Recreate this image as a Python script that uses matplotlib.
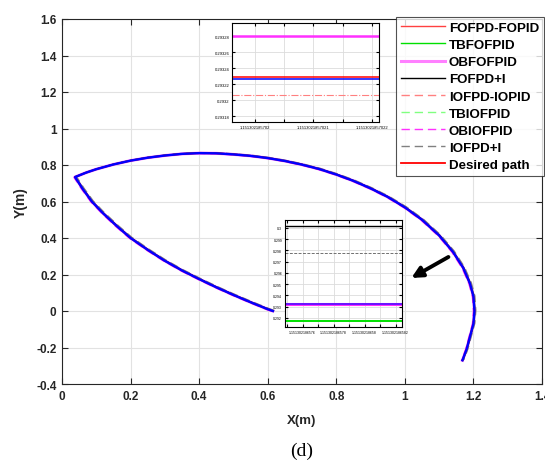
import matplotlib
matplotlib.use("Agg")
import matplotlib.pyplot as plt
import numpy as np

plt.rcParams['font.family'] = ['Liberation Sans', 'DejaVu Sans']

# ---- trajectory (metres): lower segment from start to corner, then upper arc ----
path_x = [0.615, 0.60, 0.55, 0.50, 0.45, 0.40, 0.35, 0.30, 0.25, 0.20, 0.16, 0.12, 0.087, 0.06, 0.038,
          0.07, 0.10, 0.15, 0.20, 0.25, 0.30, 0.35, 0.40, 0.45, 0.50, 0.55, 0.60, 0.65, 0.70, 0.75,
          0.80, 0.85, 0.90, 0.95, 1.00, 1.05, 1.10, 1.14, 1.17, 1.19, 1.20, 1.203, 1.20, 1.19, 1.18, 1.168]
path_y = [0.0, 0.010, 0.048, 0.088, 0.130, 0.175, 0.222, 0.275, 0.335, 0.400, 0.465, 0.535, 0.600, 0.670, 0.734,
          0.758, 0.777, 0.803, 0.824, 0.840, 0.852, 0.861, 0.865, 0.864, 0.858, 0.850, 0.838, 0.822, 0.802, 0.778,
          0.748, 0.713, 0.672, 0.625, 0.568, 0.500, 0.414, 0.325, 0.237, 0.150, 0.080, 0.0, -0.07, -0.14, -0.21, -0.27]

# controllers (legend order) and their small deviations from the reference path
series_names = ['FOFPD-FOPID', 'TBFOFPID', 'OBFOFPID', 'FOFPD+I', 'IOFPD-IOPID',
                'TBIOFPID', 'OBIOFPID', 'IOFPD+I', 'Desired path']
series_colors = ['#ff4040', '#00e000', '#ff80ff', '#000000', '#ff8080',
                 '#80ff80', '#ff30ff', '#808080', '#ff0000']
series_styles = ['-', '-', '-', '-', '--', '--', '--', '--', '-']
series_widths = [1.0, 1.0, 2.2, 1.0, 1.0, 1.0, 1.0, 1.0, 1.3]
series_dx = [0.0, 0.002, 0.0, 0.001, 0.0, 0.001, -0.003, 0.004, 0.0]
series_dy = [0.0, 0.001, 0.0, 0.001, 0.0, 0.0, -0.002, 0.003, 0.0]

# zoom window 1 (upper) levels
inset1_levels = [0.29328, 0.2932284, 0.2932259, 0.2932063]
inset1_colors = ['#ff30ff', '#ff0000', '#0000ff', '#ff8080']
inset1_styles = ['-', '-', '-', '-.']
inset1_widths = [1.8, 1.1, 1.1, 0.8]
inset1_yticks = [0.29318, 0.2932, 0.29322, 0.29324, 0.29326, 0.29328]
inset1_yticklabels = ['0.29318', '0.2932', '0.29322', '0.29324', '0.29326', '0.29328']
inset1_xticks = [0.156, 0.356, 0.553, 0.753, 0.95]
inset1_xticklabels = ['1.151302185702', '', '1.1513021857021', '', '1.1513021857022']

# zoom window 2 (lower) levels
inset2_levels = [0.3002, 0.2978, 0.2932, 0.2932, 0.29176]
inset2_colors = ['#000000', '#707070', '#ff30ff', '#0000ff', '#00e000']
inset2_styles = ['-', '--', '-', '-', '-']
inset2_widths = [1.0, 0.7, 2.2, 1.4, 1.4]
inset2_alphas = [1.0, 1.0, 1.0, 0.6, 1.0]
inset2_yticks = [0.292, 0.293, 0.294, 0.295, 0.296, 0.297, 0.298, 0.299, 0.3]
inset2_yticklabels = ['0.292', '0.293', '0.294', '0.295', '0.296', '0.297', '0.298', '0.299', '0.3']
inset2_xticks = [0.017, 0.150, 0.282, 0.415, 0.547, 0.680, 0.812, 0.945]
inset2_xticklabels = ['', '1.151302186576', '', '1.151302186578', '', '1.15130218658', '', '1.151302186582']

x_ticks = [0, 0.2, 0.4, 0.6, 0.8, 1.0, 1.2, 1.4]
x_ticklabels = ['0', '0.2', '0.4', '0.6', '0.8', '1', '1.2', '1.4']
y_ticks = [-0.4, -0.2, 0, 0.2, 0.4, 0.6, 0.8, 1.0, 1.2, 1.4, 1.6]
y_ticklabels = ['-0.4', '-0.2', '0', '0.2', '0.4', '0.6', '0.8', '1', '1.2', '1.4', '1.6']

W, H = 545, 464
fig = plt.figure(figsize=(W / 100, H / 100), dpi=100)
ax = fig.add_axes([62 / W, 1 - 385 / H, 480 / W, 365 / H])

px = np.array(path_x)
py = np.array(path_y)
handles = []
for name, c, ls, lw, dx, dy in zip(series_names, series_colors, series_styles,
                                   series_widths, series_dx, series_dy):
    if ls == '--':
        h, = ax.plot(px + dx, py + dy, color=c, lw=lw, dashes=(6, 3.5), label=name)
    else:
        h, = ax.plot(px + dx, py + dy, color=c, lw=lw, ls=ls, label=name)
    handles.append(h)
# measured trajectory on top
ax.plot(px, py, color='#0000ff', lw=1.7)

ax.set_xlim(0, 1.4)
ax.set_ylim(-0.4, 1.6)
ax.set_xticks(x_ticks)
ax.set_xticklabels(x_ticklabels)
ax.set_yticks(y_ticks)
ax.set_yticklabels(y_ticklabels)
ax.tick_params(direction='in', length=4, width=0.8, top=True, right=True,
               labelsize=8.5, colors='#262626', pad=4)
for lab in ax.get_xticklabels() + ax.get_yticklabels():
    lab.set_fontweight('bold')
ax.grid(True, color='#e2e2e2', lw=0.8)
ax.set_axisbelow(True)
for sp in ax.spines.values():
    sp.set_color('#262626')
    sp.set_linewidth(0.8)
ax.set_xlabel('X(m)', fontsize=9.5, fontweight='bold', color='#262626', labelpad=9)
ax.set_ylabel('Y(m)', fontsize=10, fontweight='bold', color='#262626', labelpad=6)

# arrow pointing at the lower zoom window
ax.annotate('', xy=(1.019, 0.181), xytext=(1.127, 0.296),
            arrowprops=dict(arrowstyle='-|>', color='black', lw=2.8, mutation_scale=16,
                            shrinkA=0, shrinkB=0))

# upper zoom window
a1 = fig.add_axes([232 / W, 1 - 123 / H, 147 / W, 99 / H])
for lvl, c, ls, lw in zip(inset1_levels, inset1_colors, inset1_styles, inset1_widths):
    a1.plot([0, 1], [lvl, lvl], color=c, ls=ls, lw=lw)
a1.set_xlim(0, 1)
a1.set_ylim(0.2931725, 0.2932963)
a1.set_yticks(inset1_yticks)
a1.set_yticklabels(inset1_yticklabels)
a1.set_xticks(inset1_xticks)
a1.set_xticklabels(inset1_xticklabels)
a1.tick_params(direction='in', length=2, width=0.8, top=True, right=True, labelsize=3, pad=2)
a1.grid(True, color='#dcdcdc', lw=0.6)
for sp in a1.spines.values():
    sp.set_linewidth(0.8)

# lower zoom window
a2 = fig.add_axes([285 / W, 1 - 328 / H, 117 / W, 107 / H])
for lvl, c, ls, lw, al in zip(inset2_levels, inset2_colors, inset2_styles, inset2_widths, inset2_alphas):
    if ls == '--':
        a2.plot([0, 1], [lvl, lvl], color=c, lw=lw, dashes=(3, 1.5), alpha=al)
    else:
        a2.plot([0, 1], [lvl, lvl], color=c, lw=lw, ls=ls, alpha=al)
a2.set_xlim(0, 1)
a2.set_ylim(0.2912, 0.30071)
a2.set_yticks(inset2_yticks)
a2.set_yticklabels(inset2_yticklabels)
a2.set_xticks(inset2_xticks)
a2.set_xticklabels(inset2_xticklabels)
a2.tick_params(direction='in', length=2, width=0.8, top=True, right=True, labelsize=2.5, pad=2)
a2.grid(True, color='#dcdcdc', lw=0.6)
for sp in a2.spines.values():
    sp.set_linewidth(0.8)

leg = fig.legend(handles=handles, loc='upper left',
                 bbox_to_anchor=(396 / W, 1 - 18 / H), bbox_transform=fig.transFigure,
                 prop={'weight': 'bold', 'size': 9.6}, frameon=True, fancybox=False,
                 edgecolor='#262626', handlelength=3.3, handletextpad=0.3,
                 labelspacing=0.36, borderpad=0.35, borderaxespad=0)
leg.get_frame().set_linewidth(0.8)

fig.text(0.5 * (62 + 542) / W, 1 - 451 / H, '(d)', ha='center', va='center',
         fontsize=14, family=['Liberation Serif', 'DejaVu Serif'])

fig.savefig('out.png', dpi=100)
